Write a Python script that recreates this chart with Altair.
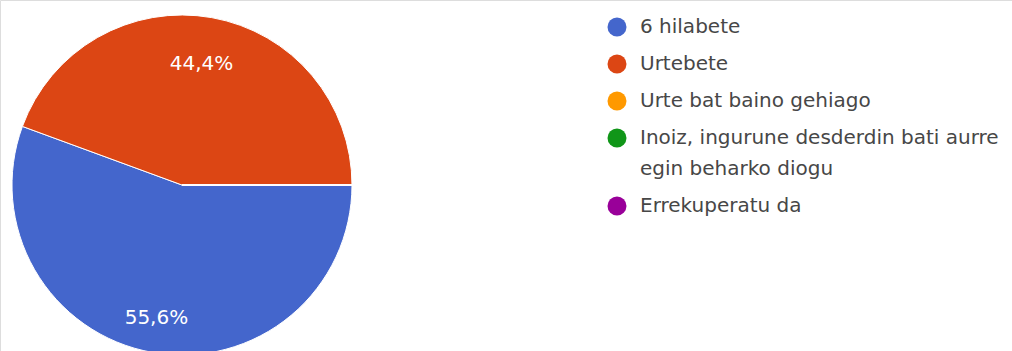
import math
import altair as alt
import pandas as pd

categories = [
    "6 hilabete",
    "Urtebete",
    "Urte bat baino gehiago",
    "Inoiz, ingurune desderdin bati aurre egin beharko diogu",
    "Errekuperatu da",
]
shares = [55.6, 44.4, 0.0, 0.0, 0.0]
pct_labels = ["55,6%", "44,4%", "", "", ""]
colors = ["#4466cc", "#dc4614", "#ff9900", "#109618", "#990099"]
wrapped = {
    "Inoiz, ingurune desderdin bati aurre egin beharko diogu": [
        "Inoiz, ingurune desderdin bati aurre",
        "egin beharko diogu",
    ]
}

df = pd.DataFrame(
    {
        "cat": categories,
        "share": shares,
        "lbl": pct_labels,
        "idx": list(range(len(categories))),
    }
)

expr = "datum.label"
for full, lines in wrapped.items():
    arr = "[" + ", ".join("'" + s + "'" for s in lines) + "]"
    expr = f"datum.label == '{full}' ? {arr} : " + expr

FONT = "DejaVu Sans"
CX, CY, R = 182, 185, 170

theta_scale = alt.Scale(range=[math.pi / 2, math.pi / 2 + 2 * math.pi])

base = alt.Chart(df).encode(
    theta=alt.Theta("share:Q", stack=True, scale=theta_scale),
    order=alt.Order("idx:Q"),
    x=alt.value(CX),
    y=alt.value(CY),
)

pie = base.mark_arc(radius=R, stroke="white", strokeWidth=1).encode(
    color=alt.Color(
        "cat:N",
        scale=alt.Scale(domain=categories, range=colors),
        legend=alt.Legend(
            title=None,
            orient="none",
            legendX=607,
            legendY=17,
            padding=0,
            symbolType="circle",
            symbolSize=360,
            symbolStrokeWidth=0,
            labelFont=FONT,
            labelFontSize=20,
            labelColor="#474747",
            labelOffset=13,
            labelLimit=500,
            rowPadding=17,
            labelExpr=expr,
        ),
    )
)

text = base.mark_text(
    radius=129, fontSize=20, font=FONT, color="white", dy=6, dx=-3
).encode(text="lbl:N")

chart = (
    alt.layer(pie, text)
    .properties(width=1012, height=351, padding=0, autosize=alt.AutoSizeParams(type="none"))
    .configure_view(stroke="transparent", strokeWidth=0)
    .configure(style={"guide-label": {"lineHeight": 31}})
)

chart.save("out.html", embed_options={"renderer": "svg", "actions": False})
